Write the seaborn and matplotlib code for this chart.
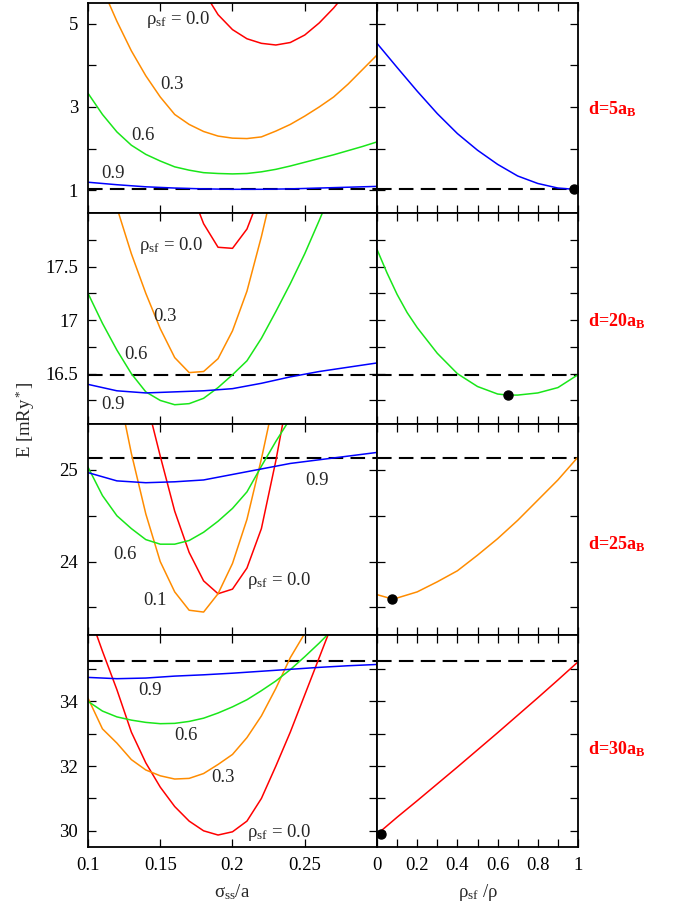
import matplotlib
matplotlib.use("Agg")
import matplotlib.pyplot as plt
import seaborn as sns

# ---------------- data ----------------
# row 1 : d = 5 aB
r1_red_x = [0.18, 0.19, 0.20, 0.21, 0.22, 0.23, 0.24, 0.25, 0.26, 0.27, 0.28]
r1_red_y = [5.78, 5.22, 4.86, 4.64, 4.53, 4.49, 4.55, 4.73, 5.02, 5.38, 5.80]
r1_org_x = [0.11, 0.12, 0.13, 0.14, 0.15, 0.16, 0.17, 0.18, 0.19, 0.20, 0.21, 0.22, 0.23, 0.24, 0.25, 0.26, 0.27, 0.28, 0.29, 0.30]
r1_org_y = [5.85, 5.06, 4.35, 3.75, 3.24, 2.82, 2.58, 2.41, 2.30, 2.25, 2.24, 2.28, 2.42, 2.58, 2.78, 3.00, 3.24, 3.55, 3.90, 4.25]
r1_grn_x = [0.10, 0.11, 0.12, 0.13, 0.14, 0.15, 0.16, 0.17, 0.18, 0.19, 0.20, 0.21, 0.22, 0.23, 0.24, 0.25, 0.26, 0.27, 0.28, 0.29, 0.30]
r1_grn_y = [3.33, 2.82, 2.40, 2.08, 1.86, 1.70, 1.56, 1.48, 1.42, 1.40, 1.39, 1.40, 1.44, 1.50, 1.58, 1.67, 1.76, 1.85, 1.95, 2.05, 2.16]
r1_blu_x = [0.10, 0.12, 0.14, 0.16, 0.18, 0.20, 0.22, 0.24, 0.26, 0.28, 0.30]
r1_blu_y = [1.19, 1.13, 1.08, 1.05, 1.03, 1.02, 1.02, 1.03, 1.05, 1.07, 1.09]
r1_rho_x = [0.0, 0.1, 0.2, 0.3, 0.4, 0.5, 0.6, 0.7, 0.8, 0.9, 0.98]
r1_rho_y = [4.53, 3.95, 3.38, 2.84, 2.36, 1.96, 1.62, 1.34, 1.16, 1.05, 1.02]
r1_ref = 1.03
r1_min = (0.98, 1.02)

# row 2 : d = 20 aB
r2_red_x = [0.17, 0.18, 0.19, 0.20, 0.21, 0.22]
r2_red_y = [18.25, 17.90, 17.68, 17.67, 17.85, 18.20]
r2_org_x = [0.12, 0.13, 0.14, 0.15, 0.16, 0.17, 0.18, 0.19, 0.20, 0.21, 0.22, 0.23]
r2_org_y = [18.05, 17.62, 17.25, 16.92, 16.65, 16.51, 16.52, 16.64, 16.90, 17.27, 17.78, 18.35]
r2_grn_x = [0.10, 0.11, 0.12, 0.13, 0.14, 0.15, 0.16, 0.17, 0.18, 0.19, 0.20, 0.21, 0.22, 0.23, 0.24, 0.25, 0.26, 0.27]
r2_grn_y = [17.25, 16.97, 16.72, 16.50, 16.33, 16.25, 16.21, 16.22, 16.27, 16.37, 16.49, 16.62, 16.83, 17.08, 17.34, 17.62, 17.93, 18.25]
r2_blu_x = [0.10, 0.12, 0.14, 0.16, 0.18, 0.20, 0.22, 0.24, 0.26, 0.28, 0.30]
r2_blu_y = [16.40, 16.34, 16.32, 16.33, 16.34, 16.36, 16.41, 16.47, 16.52, 16.56, 16.60]
r2_rho_x = [0.0, 0.05, 0.1, 0.15, 0.2, 0.3, 0.4, 0.5, 0.6, 0.65, 0.7, 0.8, 0.9, 1.0]
r2_rho_y = [17.66, 17.44, 17.24, 17.07, 16.93, 16.69, 16.50, 16.38, 16.31, 16.30, 16.30, 16.32, 16.37, 16.49]
r2_ref = 16.49
r2_min = (0.65, 16.30)

# row 3 : d = 25 aB
r3_red_x = [0.14, 0.15, 0.16, 0.17, 0.18, 0.19, 0.20, 0.21, 0.22, 0.23, 0.24]
r3_red_y = [25.78, 25.15, 24.55, 24.10, 23.79, 23.65, 23.70, 23.93, 24.36, 25.10, 25.95]
r3_org_x = [0.12, 0.13, 0.14, 0.15, 0.16, 0.17, 0.18, 0.19, 0.20, 0.21, 0.22, 0.23]
r3_org_y = [25.95, 25.18, 24.52, 24.00, 23.67, 23.47, 23.45, 23.65, 23.98, 24.46, 25.12, 25.85]
r3_grn_x = [0.10, 0.11, 0.12, 0.13, 0.14, 0.15, 0.16, 0.17, 0.18, 0.19, 0.20, 0.21, 0.22, 0.23, 0.24]
r3_grn_y = [25.03, 24.72, 24.50, 24.36, 24.24, 24.19, 24.19, 24.23, 24.32, 24.44, 24.58, 24.76, 25.04, 25.31, 25.56]
r3_blu_x = [0.10, 0.12, 0.14, 0.16, 0.18, 0.20, 0.22, 0.24, 0.26, 0.28, 0.30]
r3_blu_y = [24.97, 24.88, 24.86, 24.87, 24.89, 24.95, 25.01, 25.07, 25.11, 25.15, 25.19]
r3_rho_x = [0.0, 0.08, 0.2, 0.3, 0.4, 0.5, 0.6, 0.7, 0.8, 0.9, 1.0]
r3_rho_y = [23.64, 23.59, 23.67, 23.78, 23.90, 24.07, 24.25, 24.45, 24.67, 24.89, 25.14]
r3_ref = 25.13
r3_min = (0.076, 23.59)

# row 4 : d = 30 aB
r4_red_x = [0.10, 0.11, 0.12, 0.13, 0.14, 0.15, 0.16, 0.17, 0.18, 0.19, 0.20, 0.21, 0.22, 0.23, 0.24, 0.25, 0.26, 0.27]
r4_red_y = [36.80, 35.55, 34.36, 33.05, 32.10, 31.35, 30.75, 30.30, 30.00, 29.87, 29.97, 30.30, 31.00, 32.00, 33.05, 34.20, 35.35, 36.50]
r4_org_x = [0.10, 0.11, 0.12, 0.13, 0.14, 0.15, 0.16, 0.17, 0.18, 0.19, 0.20, 0.21, 0.22, 0.23, 0.24, 0.25]
r4_org_y = [34.10, 33.15, 32.71, 32.20, 31.88, 31.70, 31.60, 31.62, 31.77, 32.05, 32.36, 32.88, 33.55, 34.40, 35.35, 36.10]
r4_grn_x = [0.10, 0.11, 0.12, 0.13, 0.14, 0.15, 0.16, 0.17, 0.18, 0.19, 0.20, 0.21, 0.22, 0.23, 0.24, 0.25, 0.26, 0.27]
r4_grn_y = [34.00, 33.70, 33.52, 33.42, 33.35, 33.31, 33.32, 33.38, 33.48, 33.64, 33.83, 34.05, 34.33, 34.63, 34.98, 35.38, 35.80, 36.25]
r4_blu_x = [0.10, 0.12, 0.14, 0.16, 0.18, 0.20, 0.22, 0.24, 0.26, 0.28, 0.30]
r4_blu_y = [34.74, 34.70, 34.72, 34.78, 34.82, 34.87, 34.93, 34.99, 35.05, 35.10, 35.14]
r4_rho_x = [0.015, 0.1, 0.2, 0.3, 0.4, 0.5, 0.6, 0.7, 0.8, 0.9, 1.0]
r4_rho_y = [29.97, 30.42, 30.93, 31.45, 31.97, 32.50, 33.03, 33.57, 34.11, 34.66, 35.22]
r4_ref = 35.24
r4_min = (0.02, 29.90)

row_titles = ["5", "20", "25", "30"]
ylims = [(0.45, 5.5), (16.03, 18.0), (23.2, 25.5), (29.5, 36.05)]
ymajor = [[1, 3, 5], [16.5, 17, 17.5], [24, 25], [30, 32, 34]]
ymajor_lbl = [["1", "3", "5"], ["16.5", "17", "17.5"], ["24", "25"], ["30", "32", "34"]]
yminor = [[2, 4], [16.25, 16.75, 17.25, 17.75], [23.5, 24.5], [31, 33, 35]]
sig_ticks = [0.1, 0.15, 0.2, 0.25]
sig_lbl = ["0.1", "0.15", "0.2", "0.25"]
rho_ticks = [0, 0.2, 0.4, 0.6, 0.8, 1.0]
rho_lbl = ["0", "0.2", "0.4", "0.6", "0.8", "1"]
rho_minor = [0.1, 0.3, 0.5, 0.7, 0.9]

# curve labels: (text, sigma, E)
RS = "ρ$_{\\rm sf}$ = 0.0"
labels = [
    [(RS, 0.140, 5.0), ("0.3", 0.150, 3.43), ("0.6", 0.1296, 2.205), ("0.9", 0.1095, 1.30)],
    [(RS, 0.135, 17.656), ("0.3", 0.1449, 16.99), ("0.6", 0.125, 16.64), ("0.9", 0.1095, 16.17)],
    [("0.9", 0.250, 24.83), ("0.6", 0.1176, 24.03), ("0.1", 0.138, 23.53), (RS, 0.2102, 23.74)],
    [("0.9", 0.135, 34.21), ("0.6", 0.1597, 32.81), ("0.3", 0.1852, 31.52), (RS, 0.2102, 29.82)],
]

RED, ORG, GRN, BLU = "#ff0000", "#ff8c00", "#19e619", "#0000ff"
rows = [
    dict(curves=[(r1_red_x, r1_red_y, RED), (r1_org_x, r1_org_y, ORG), (r1_grn_x, r1_grn_y, GRN), (r1_blu_x, r1_blu_y, BLU)],
         rho=(r1_rho_x, r1_rho_y, BLU), ref=r1_ref, mn=r1_min),
    dict(curves=[(r2_red_x, r2_red_y, RED), (r2_org_x, r2_org_y, ORG), (r2_grn_x, r2_grn_y, GRN), (r2_blu_x, r2_blu_y, BLU)],
         rho=(r2_rho_x, r2_rho_y, GRN), ref=r2_ref, mn=r2_min),
    dict(curves=[(r3_red_x, r3_red_y, RED), (r3_org_x, r3_org_y, ORG), (r3_grn_x, r3_grn_y, GRN), (r3_blu_x, r3_blu_y, BLU)],
         rho=(r3_rho_x, r3_rho_y, ORG), ref=r3_ref, mn=r3_min),
    dict(curves=[(r4_red_x, r4_red_y, RED), (r4_org_x, r4_org_y, ORG), (r4_grn_x, r4_grn_y, GRN), (r4_blu_x, r4_blu_y, BLU)],
         rho=(r4_rho_x, r4_rho_y, RED), ref=r4_ref, mn=r4_min),
]

# ---------------- style ----------------
sns.set_style("ticks")
plt.rcParams.update({
    "font.family": ["Liberation Serif", "DejaVu Serif"],
    "mathtext.fontset": "custom",
    "mathtext.rm": "Liberation Serif",
    "mathtext.it": "Liberation Serif:italic",
    "mathtext.bf": "Liberation Serif:bold",
    "axes.linewidth": 1.3,
    "axes.edgecolor": "black",
})

W, H = 683, 909
fig = plt.figure(figsize=(W / 100, H / 100), dpi=100)

row_pix = [(3, 213), (213, 424), (424, 635), (635, 847)]
lx0, lx1, rx1 = 88, 377, 578
FS = 13.5


def style(ax):
    ax.tick_params(axis="both", which="both", direction="in", top=True, right=True,
                   length=6, width=0.9, labelsize=FS, colors="black", pad=7)


for i, row in enumerate(rows):
    top, bot = row_pix[i]
    b = 1 - bot / H
    h = (bot - top) / H
    axL = fig.add_axes([lx0 / W, b, (lx1 - lx0) / W, h])
    axR = fig.add_axes([lx1 / W, b, (rx1 - lx1) / W, h])

    for xs, ys, c in row["curves"]:
        sns.lineplot(x=xs, y=ys, color=c, lw=1.1, ax=axL, sort=False, estimator=None)
    xs, ys, c = row["rho"]
    sns.lineplot(x=xs, y=ys, color=c, lw=1.1, ax=axR, sort=False, estimator=None)

    for ax in (axL, axR):
        ax.axhline(row["ref"], color="black", lw=1.5, dashes=(7, 3.5), zorder=1)
        ax.set_ylim(*ylims[i])
        ax.set_yticks(ymajor[i])
        ax.set_yticks(yminor[i], minor=True)
        style(ax)
        for s in ax.spines.values():
            s.set_visible(True)
            s.set_linewidth(1.3)

    axR.plot([row["mn"][0]], [row["mn"][1]], "o", color="black", ms=6.5, zorder=5)

    axL.set_xlim(0.1, 0.3)
    axL.set_xticks(sig_ticks + [0.3])
    axL.set_yticklabels(ymajor_lbl[i])
    axR.set_xlim(0, 1)
    axR.set_xticks(rho_ticks)
    axR.set_xticks(rho_minor, minor=True)
    axR.set_yticklabels([])

    if i == 3:
        axL.set_xticklabels(sig_lbl + [""])
        axR.set_xticklabels(rho_lbl)
        axL.set_xlabel("σ$_{\\rm ss}$/a", fontsize=FS, labelpad=6)
        axR.set_xlabel("ρ$_{\\rm sf}$ /ρ", fontsize=FS, labelpad=6)
    else:
        axL.set_xticklabels([])
        axR.set_xticklabels([])

    for txt, sx, ey in labels[i]:
        axL.text(sx, ey, txt, fontsize=FS, ha="left", va="baseline")

    # d label
    base_y = [114, 326, 549, 754][i]
    fig.text(588 / W, 1 - base_y / H, "d=" + row_titles[i] + "a$_{\\bf B}$", color="#ff0000",
             fontsize=13, fontweight="bold", ha="left", va="baseline")

fig.text(25 / W, 1 - 420 / H, "E [mRy$^*$]", rotation=90, fontsize=FS, ha="center", va="center")

fig.savefig("out.png", dpi=100)
